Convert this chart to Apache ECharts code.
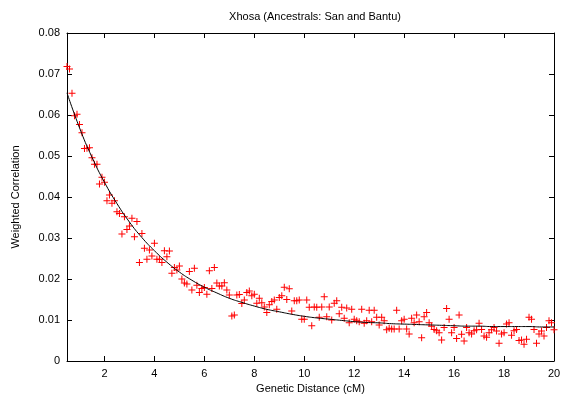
<!DOCTYPE html>
<html>
<head>
<meta charset="utf-8">
<script src="https://cdn.jsdelivr.net/npm/echarts@6/dist/echarts.min.js"></script>
<style>
  html, body { margin: 0; padding: 0; background: #fff; }
  #chart { width: 561px; height: 397px; }
</style>
</head>
<body>
<div id="chart"></div>
<script>
// weighted LD points: [distance cM, correlation]
const points = [
  [0.5, 0.0718], [0.6, 0.0712], [0.7, 0.0653], [0.8, 0.0598], [0.9, 0.0602],
  [1.0, 0.0577], [1.1, 0.0557], [1.2, 0.0518], [1.3, 0.0519], [1.4, 0.0520],
  [1.5, 0.0496], [1.6, 0.0480], [1.7, 0.0480], [1.8, 0.0432], [1.9, 0.0448],
  [2.0, 0.0436], [2.1, 0.0391], [2.2, 0.0405], [2.3, 0.0385], [2.4, 0.0391],
  [2.5, 0.0364], [2.6, 0.0360], [2.7, 0.0310], [2.8, 0.0352], [2.9, 0.0321],
  [3.0, 0.0329], [3.1, 0.0348], [3.2, 0.0303], [3.3, 0.0340], [3.4, 0.0240],
  [3.5, 0.0311], [3.6, 0.0275], [3.7, 0.0248], [3.8, 0.0271], [3.9, 0.0256],
  [4.0, 0.0287], [4.1, 0.0248], [4.2, 0.0248], [4.3, 0.0240], [4.4, 0.0269],
  [4.5, 0.0254], [4.6, 0.0268], [4.7, 0.0214], [4.8, 0.0228], [4.9, 0.0222],
  [5.0, 0.0232], [5.1, 0.0200], [5.2, 0.0190], [5.3, 0.0188], [5.4, 0.0218],
  [5.5, 0.0173], [5.6, 0.0226], [5.7, 0.0185], [5.8, 0.0167], [5.9, 0.0177],
  [6.0, 0.0179], [6.1, 0.0163], [6.2, 0.0220], [6.3, 0.0177], [6.4, 0.0228],
  [6.5, 0.0190], [6.6, 0.0183], [6.7, 0.0183], [6.8, 0.0191], [6.9, 0.0173],
  [7.0, 0.0161], [7.1, 0.0110], [7.2, 0.0112], [7.3, 0.0161], [7.4, 0.0162],
  [7.5, 0.0140], [7.6, 0.0149], [7.7, 0.0167], [7.8, 0.0171], [7.9, 0.0159],
  [8.0, 0.0163], [8.1, 0.0141], [8.2, 0.0153], [8.3, 0.0142], [8.4, 0.0132],
  [8.5, 0.0118], [8.6, 0.0137], [8.7, 0.0145], [8.8, 0.0149], [8.9, 0.0126],
  [9.0, 0.0155], [9.1, 0.0159], [9.2, 0.0180], [9.3, 0.0150], [9.4, 0.0176],
  [9.5, 0.0122], [9.6, 0.0147], [9.7, 0.0147], [9.8, 0.0149], [9.9, 0.0102],
  [10.0, 0.0102], [10.1, 0.0149], [10.2, 0.0131], [10.3, 0.0086], [10.4, 0.0132],
  [10.5, 0.0131], [10.6, 0.0107], [10.7, 0.0132], [10.8, 0.0157], [10.9, 0.0108],
  [11.0, 0.0132], [11.1, 0.0100], [11.2, 0.0141], [11.3, 0.0147], [11.4, 0.0115],
  [11.5, 0.0131], [11.6, 0.0104], [11.7, 0.0129], [11.8, 0.0093], [11.9, 0.0126],
  [12.0, 0.0102], [12.1, 0.0098], [12.2, 0.0096], [12.3, 0.0126], [12.4, 0.0092],
  [12.5, 0.0098], [12.6, 0.0124], [12.7, 0.0096], [12.8, 0.0124], [12.9, 0.0107],
  [13.0, 0.0088], [13.1, 0.0107], [13.2, 0.0098], [13.3, 0.0076], [13.4, 0.0080],
  [13.5, 0.0078], [13.6, 0.0078], [13.7, 0.0124], [13.8, 0.0078], [13.9, 0.0098],
  [14.0, 0.0102], [14.1, 0.0078], [14.2, 0.0066], [14.3, 0.0104], [14.4, 0.0093],
  [14.5, 0.0112], [14.6, 0.0096], [14.7, 0.0057], [14.8, 0.0108], [14.9, 0.0118],
  [15.0, 0.0093], [15.1, 0.0085], [15.2, 0.0077], [15.3, 0.0074], [15.4, 0.0069],
  [15.5, 0.0051], [15.6, 0.0082], [15.7, 0.0128], [15.8, 0.0102], [15.9, 0.0069],
  [16.0, 0.0082], [16.1, 0.0055], [16.2, 0.0112], [16.3, 0.0065], [16.4, 0.0049],
  [16.5, 0.0082], [16.6, 0.0069], [16.7, 0.0066], [16.8, 0.0074], [16.9, 0.0076],
  [17.0, 0.0092], [17.1, 0.0077], [17.2, 0.0061], [17.3, 0.0058], [17.4, 0.0069],
  [17.5, 0.0076], [17.6, 0.0082], [17.7, 0.0073], [17.8, 0.0043], [17.9, 0.0066],
  [18.0, 0.0069], [18.1, 0.0090], [18.2, 0.0093], [18.3, 0.0063], [18.4, 0.0074],
  [18.5, 0.0077], [18.6, 0.0050], [18.7, 0.0051], [18.8, 0.0041], [18.9, 0.0053],
  [19.0, 0.0107], [19.1, 0.0102], [19.2, 0.0077], [19.3, 0.0043], [19.4, 0.0066],
  [19.5, 0.0073], [19.6, 0.0061], [19.7, 0.0082], [19.8, 0.0098], [19.9, 0.0093],
  [20.0, 0.0076]
];

// fitted curve, every 0.5 cM
const fitX = [0.5, 1, 1.5, 2, 2.5, 3, 3.5, 4, 4.5, 5, 5.5, 6, 6.5, 7, 7.5, 8, 8.5, 9, 9.5, 10,
  10.5, 11, 11.5, 12, 12.5, 13, 13.5, 14, 14.5, 15, 15.5, 16, 16.5, 17, 17.5, 18, 18.5, 19, 19.5, 20];
const fitY = [0.0654, 0.0569, 0.0497, 0.0436, 0.0384, 0.0339, 0.0301, 0.0269, 0.0241, 0.0217,
  0.0197, 0.0180, 0.0166, 0.0153, 0.0143, 0.0134, 0.0126, 0.0120, 0.0114, 0.0109,
  0.0105, 0.0102, 0.0099, 0.0096, 0.0094, 0.0093, 0.0091, 0.0090, 0.0089, 0.0088,
  0.0087, 0.0086, 0.0085, 0.0085, 0.0084, 0.0084, 0.0084, 0.0084, 0.0083, 0.0083];

const titleText = "Xhosa (Ancestrals: San and Bantu)";
const xName = "Genetic Distance (cM)";
const yName = "Weighted Correlation";

const FONT = "Liberation Sans, Arial, sans-serif";
const plus = "path://M3,0h1v3h3v1h-3v3h-1v-3h-3v-1h3z";

const chart = echarts.init(document.getElementById("chart"), null, { renderer: "canvas" });

const tickStyle = { show: true, inside: true, length: 5, lineStyle: { color: "#000", width: 1 } };
const lineStyle = { show: true, onZero: false, lineStyle: { color: "#000", width: 1 } };

chart.setOption({
  animation: false,
  backgroundColor: "#fff",
  textStyle: { fontFamily: FONT },
  title: {
    text: titleText,
    left: 310,
    top: 6,
    textAlign: "center",
    textStyle: { fontSize: 11, fontWeight: "normal", color: "#000", fontFamily: FONT }
  },
  grid: { left: 67, right: 7, top: 33, bottom: 36, outerBoundsMode: "none", containLabel: false },
  xAxis: [
    {
      type: "value", min: 0.5, max: 20, splitNumber: 10, minInterval: 2, maxInterval: 2,
      name: xName, nameLocation: "middle", nameGap: 20,
      nameTextStyle: { fontSize: 11, color: "#000", fontFamily: FONT },
      axisLine: lineStyle, axisTick: tickStyle, splitLine: { show: false },
      axisLabel: {
        margin: 7, fontSize: 11, color: "#000", fontFamily: FONT,
        formatter: (v) => (Math.abs(v % 2) < 1e-9 ? String(v) : "")
      }
    },
    {
      type: "value", position: "top", min: 0.5, max: 20, splitNumber: 10, minInterval: 2, maxInterval: 2,
      axisLine: lineStyle, axisTick: tickStyle, axisLabel: { show: false }, splitLine: { show: false }
    }
  ],
  yAxis: [
    {
      type: "value", min: 0, max: 0.08, interval: 0.01,
      name: yName, nameLocation: "middle", nameGap: 46,
      nameTextStyle: { fontSize: 11, color: "#000", fontFamily: FONT },
      axisLine: lineStyle, axisTick: tickStyle, splitLine: { show: false },
      axisLabel: { margin: 7, fontSize: 11, color: "#000", fontFamily: FONT }
    },
    {
      type: "value", position: "right", min: 0, max: 0.08, interval: 0.01,
      axisLine: lineStyle, axisTick: tickStyle, axisLabel: { show: false }, splitLine: { show: false }
    }
  ],
  series: [
    {
      name: "data",
      type: "scatter",
      data: points,
      symbol: plus,
      symbolSize: 7,
      itemStyle: { color: "#ff0000", opacity: 1 },
      z: 2
    },
    {
      name: "fit",
      type: "line",
      data: fitX.map((x, i) => [x, fitY[i]]),
      smooth: true,
      showSymbol: false,
      lineStyle: { color: "#000", width: 1 },
      z: 3
    }
  ]
});
</script>
</body>
</html>
